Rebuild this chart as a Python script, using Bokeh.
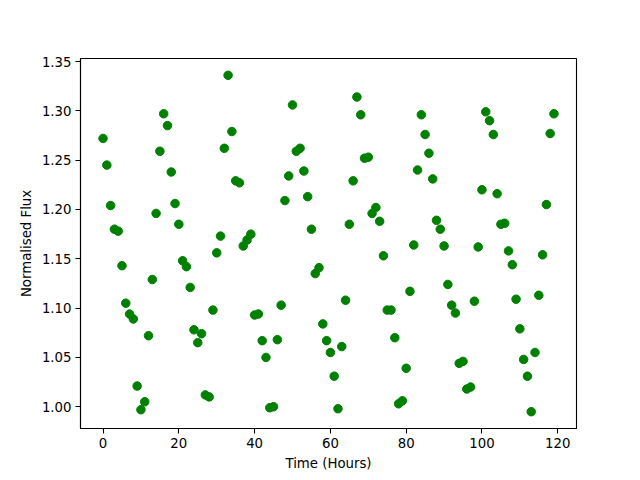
from bokeh.plotting import figure
from bokeh.models import FixedTicker, PrintfTickFormatter, Range1d
from bokeh.embed import file_html
from bokeh.resources import INLINE

hours = list(range(120))
flux = [
    1.272, 1.245, 1.204, 1.180, 1.178, 1.143, 1.105, 1.094, 1.089, 1.021,
    0.997, 1.005, 1.072, 1.129, 1.196, 1.259, 1.297, 1.285, 1.238, 1.206,
    1.185, 1.148, 1.142, 1.121, 1.078, 1.065, 1.074, 1.012, 1.010, 1.098,
    1.156, 1.173, 1.262, 1.336, 1.279, 1.229, 1.227, 1.163, 1.169, 1.175,
    1.093, 1.094, 1.067, 1.050, 0.999, 1.000, 1.068, 1.103, 1.209, 1.234,
    1.306, 1.259, 1.262, 1.239, 1.213, 1.180, 1.135, 1.141, 1.084, 1.067,
    1.055, 1.031, 0.998, 1.061, 1.108, 1.185, 1.229, 1.314, 1.296, 1.252,
    1.253, 1.196, 1.202, 1.188, 1.153, 1.098, 1.098, 1.070, 1.003, 1.006,
    1.039, 1.117, 1.164, 1.240, 1.296, 1.276, 1.257, 1.231, 1.189, 1.180,
    1.163, 1.124, 1.103, 1.095, 1.044, 1.046, 1.018, 1.020, 1.107, 1.162,
    1.220, 1.299, 1.290, 1.276, 1.216, 1.185, 1.186, 1.158, 1.144, 1.109,
    1.079, 1.048, 1.031, 0.995, 1.055, 1.113, 1.154, 1.205, 1.277, 1.297,
]
x_ticks = [0, 20, 40, 60, 80, 100, 120]
y_ticks = [1.00, 1.05, 1.10, 1.15, 1.20, 1.25, 1.30, 1.35]

xmin, xmax = min(hours), max(hours)
ymin, ymax = min(flux), max(flux)
xpad = 0.05 * (xmax - xmin)
ypad = 0.05 * (ymax - ymin)

p = figure(width=640, height=480, output_backend="svg", toolbar_location=None,
           x_range=Range1d(xmin - xpad, xmax + xpad),
           y_range=Range1d(ymin - ypad, ymax + ypad),
           min_border_left=80, min_border_right=64, min_border_top=58, min_border_bottom=52)

p.scatter(hours, flux, size=8.5, color="#008000", line_color="#008000")

p.xgrid.visible = False
p.ygrid.visible = False
p.outline_line_color = "black"
p.outline_line_width = 1.1

for ax in (p.xaxis[0], p.yaxis[0]):
    ax.minor_tick_line_color = None
    ax.major_tick_out = 5
    ax.major_tick_in = 0
    ax.major_tick_line_width = 1.1
    ax.major_tick_line_color = "black"
    ax.axis_line_width = 1.1
    ax.axis_line_color = "black"
    ax.major_label_text_color = "black"
    ax.axis_label_text_color = "black"
    ax.major_label_text_font = "DejaVu Sans"
    ax.major_label_text_font_size = "13.3px"
    ax.axis_label_text_font = "DejaVu Sans"
    ax.axis_label_text_font_size = "13.3px"
    ax.axis_label_text_font_style = "normal"
    ax.major_label_standoff = 4
    ax.axis_label_standoff = 5

p.xaxis.ticker = FixedTicker(ticks=x_ticks)
p.yaxis.ticker = FixedTicker(ticks=y_ticks)
p.yaxis.formatter = PrintfTickFormatter(format="%.2f")
p.xaxis.axis_label = "Time (Hours)"
p.yaxis.axis_label = "Normalised Flux"

open("out.html", "w").write(file_html(p, INLINE))
